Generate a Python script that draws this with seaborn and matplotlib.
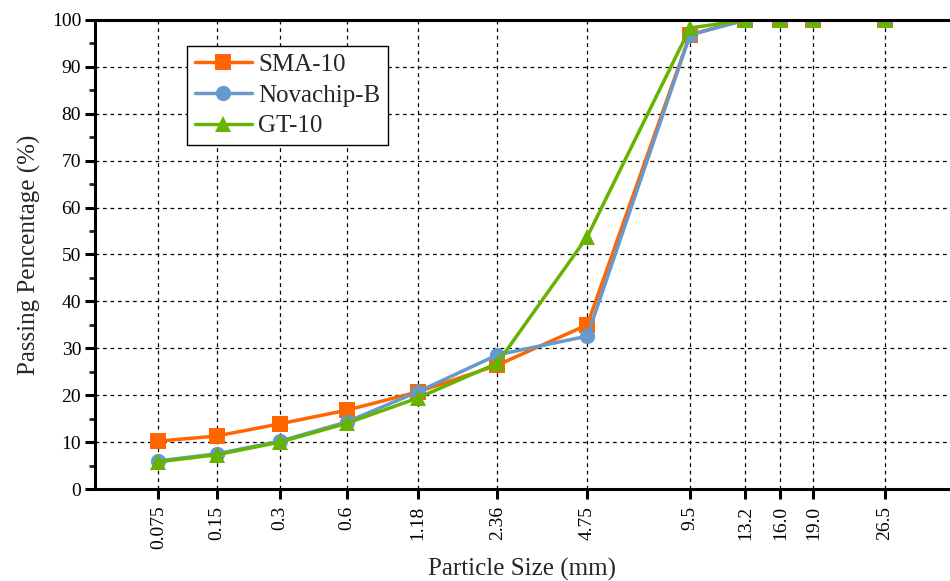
import numpy as np
import pandas as pd
import matplotlib
matplotlib.use("Agg")
import matplotlib.pyplot as plt
import seaborn as sns
from matplotlib.ticker import FixedLocator, FixedFormatter, MultipleLocator

# ---- data ----
sizes = [0.075, 0.15, 0.3, 0.6, 1.18, 2.36, 4.75, 9.5, 13.2, 16.0, 19.0, 26.5]
size_labels = ["0.075", "0.15", "0.3", "0.6", "1.18", "2.36", "4.75", "9.5",
               "13.2", "16.0", "19.0", "26.5"]
sma10 = [10.2, 11.3, 13.9, 16.8, 20.7, 26.4, 35.0, 96.9, 100, 100, 100, 100]
novachip_b = [6.0, 7.5, 10.2, 14.3, 20.7, 28.6, 32.6, 96.8, 100, 100, 100, 100]
gt10 = [5.8, 7.3, 10.0, 14.0, 19.4, 26.8, 53.8, 98.3, 100, 100, 100, 100]
series_names = ["SMA-10", "Novachip-B", "GT-10"]

df = pd.concat([
    pd.DataFrame({"size": sizes, "pass": v, "Mix": n})
    for n, v in zip(series_names, [sma10, novachip_b, gt10])
], ignore_index=True)

# ---- custom sieve-size scale (piecewise in log size) ----
_scale_pos = np.array([158.3, 216.7, 280.0, 346.7, 417.7, 497.3, 587.3,
                       690.0, 745.3, 780.3, 813.3, 884.7])
_LX = np.log(np.array(sizes))
_sL = (_scale_pos[1] - _scale_pos[0]) / (_LX[1] - _LX[0])
_sR = (_scale_pos[-1] - _scale_pos[-2]) / (_LX[-1] - _LX[-2])


def fwd(d):
    d = np.asarray(d, dtype=float)
    l = np.log(np.clip(d, 1e-9, None))
    out = np.interp(l, _LX, _scale_pos)
    lo = l < _LX[0]
    hi = l > _LX[-1]
    out = np.where(lo, _scale_pos[0] + (l - _LX[0]) * _sL, out)
    out = np.where(hi, _scale_pos[-1] + (l - _LX[-1]) * _sR, out)
    return out


def inv(u):
    u = np.asarray(u, dtype=float)
    l = np.interp(u, _scale_pos, _LX)
    l = np.where(u < _scale_pos[0], _LX[0] + (u - _scale_pos[0]) / _sL, l)
    l = np.where(u > _scale_pos[-1], _LX[-1] + (u - _scale_pos[-1]) / _sR, l)
    return np.exp(l)


# ---- style ----
sns.set_style("ticks")
plt.rcParams["font.family"] = ["Liberation Serif", "DejaVu Serif"]
plt.rcParams["mathtext.fontset"] = "stix"

W, H = 950, 581
fig = plt.figure(figsize=(W / 100, H / 100), dpi=100)
ax = fig.add_axes([95 / W, 1 - 489 / H, (950 - 95) / W, (489 - 20) / H])

palette = {"SMA-10": "#FF6600", "Novachip-B": "#6699CC", "GT-10": "#66B300"}
markers = {"SMA-10": "s", "Novachip-B": "o", "GT-10": "^"}

sns.lineplot(data=df, x="size", y="pass", hue="Mix", style="Mix",
             hue_order=series_names, style_order=series_names,
             palette=palette, markers=markers, dashes=False, sort=False,
             linewidth=2.5, markersize=11, markeredgewidth=0,
             ax=ax, legend=True, zorder=3)

ax.set_xscale("function", functions=(fwd, inv))
ax.set_xlim(float(inv(95.0)), float(inv(950.0)))
ax.set_ylim(0, 100)

ax.xaxis.set_major_locator(FixedLocator(sizes))
ax.xaxis.set_major_formatter(FixedFormatter(size_labels))
ax.xaxis.set_minor_locator(FixedLocator([]))
ax.yaxis.set_major_locator(MultipleLocator(10))
ax.yaxis.set_minor_locator(MultipleLocator(5))

ax.tick_params(axis="x", which="major", direction="out", length=7, width=2.2,
               labelsize=14, rotation=90, pad=5, colors="black")
ax.tick_params(axis="y", which="major", direction="out", length=7, width=2.2,
               labelsize=14, pad=3, colors="black")
ax.tick_params(axis="y", which="minor", direction="out", length=4, width=2.0)

for s in ["left", "bottom", "top"]:
    ax.spines[s].set_linewidth(2.2)
    ax.spines[s].set_color("black")
    ax.spines[s].set_zorder(4)
ax.spines["right"].set_visible(False)

ax.grid(True, which="major", axis="both", color="black", linestyle=(0, (3, 3)),
        linewidth=0.9)
ax.set_axisbelow(True)

ax.set_xlabel("Particle Size (mm)", fontsize=18, labelpad=6)
ax.set_ylabel("Passing Pencentage (%)", fontsize=18, labelpad=8)

leg = ax.legend(loc="upper left", bbox_to_anchor=((187 - 95) / 855, (489 - 46) / 469),
                borderaxespad=0, fontsize=18, frameon=True, fancybox=False,
                edgecolor="black", handlelength=2.3, handletextpad=0.25,
                labelspacing=0.33, borderpad=0.3, markerscale=1.0)
leg.get_frame().set_linewidth(1.0)
leg.get_frame().set_alpha(1)
leg.set_zorder(5)

fig.savefig("out.png", dpi=100)
